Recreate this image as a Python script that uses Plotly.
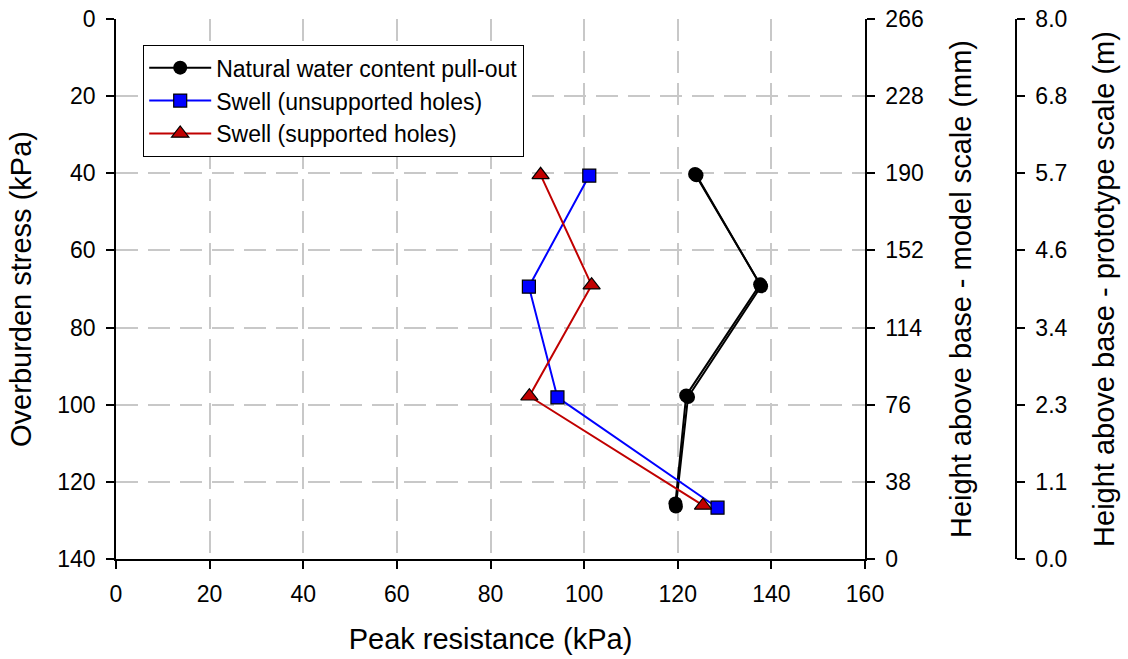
import plotly.graph_objects as go

# Data
natural_x_a = [123.7, 137.6, 121.8, 119.5]
natural_y_a = [40.2, 68.8, 97.6, 125.6]
natural_x_b = [124.0, 137.8, 122.2, 119.6]
natural_y_b = [40.5, 69.3, 98.0, 126.4]

unsup_x = [101.1, 88.2, 94.3, 128.5]
unsup_y = [40.6, 69.4, 98.1, 126.7]

sup_x = [90.7, 101.6, 88.3, 125.4]
sup_y = [40.4, 69.0, 97.8, 126.1]

model_ticks = [0, 38, 76, 114, 152, 190, 228, 266]
proto_tickvals = [0, 8/7, 16/7, 24/7, 32/7, 40/7, 48/7, 8]
proto_ticktext = ["0.0", "1.1", "2.3", "3.4", "4.6", "5.7", "6.8", "8.0"]

FONT = "Liberation Sans, Arial, sans-serif"

fig = go.Figure()
fig.add_trace(go.Scatter(x=natural_x_a, y=natural_y_a, mode="lines+markers",
                         name="Natural water content pull-out",
                         line=dict(color="black", width=2),
                         marker=dict(symbol="circle", size=14, color="black")))
fig.add_trace(go.Scatter(x=natural_x_b, y=natural_y_b, mode="lines+markers",
                         name="Natural water content pull-out (repeat)", showlegend=False,
                         line=dict(color="black", width=2),
                         marker=dict(symbol="circle", size=14, color="black")))
fig.add_trace(go.Scatter(x=unsup_x, y=unsup_y, mode="lines+markers",
                         name="Swell (unsupported holes)",
                         line=dict(color="#0000ff", width=2),
                         marker=dict(symbol="square", size=13, color="#0000ff",
                                     line=dict(color="black", width=1.2))))
fig.add_trace(go.Scatter(x=sup_x, y=sup_y, mode="lines+markers",
                         name="Swell (supported holes)",
                         line=dict(color="#c00000", width=2),
                         marker=dict(symbol="triangle-up", size=15, color="#c00000",
                                     line=dict(color="black", width=1.2))))
# invisible traces to activate right axes
fig.add_trace(go.Scatter(x=[None], y=[None], yaxis="y2", showlegend=False, hoverinfo="skip"))
fig.add_trace(go.Scatter(x=[None], y=[None], yaxis="y3", showlegend=False, hoverinfo="skip"))

L, R = 116, 10
W = 1128 - L - R
x_end = (865 - L) / W
y3_pos = (1016 - L) / W

grid = dict(showgrid=True, gridcolor="#c8c8c8", griddash="22px,10px", gridwidth=1.5)
axline = dict(showline=True, linecolor="black", linewidth=1.5,
              ticks="outside", ticklen=8, tickcolor="black", tickwidth=1.5,
              zeroline=False, automargin=False, tickfont=dict(size=23))

fig.update_layout(
    width=1128, height=659,
    margin=dict(l=L, r=R, t=19, b=100, autoexpand=False),
    paper_bgcolor="white", plot_bgcolor="white",
    font=dict(family=FONT, size=23, color="black"),
    showlegend=True,
    legend=dict(x=(143 - L) / W, y=1 - (45 - 19) / 540, xanchor="left", yanchor="top",
                bordercolor="black", borderwidth=1.2, bgcolor="white",
                font=dict(size=23), itemwidth=62, tracegroupgap=0),
    xaxis=dict(domain=[0, x_end], range=[0, 160], dtick=20, tick0=0,
               ticklabelstandoff=6,
               title=dict(text="Peak resistance (kPa)", font=dict(size=29), standoff=22),
               **axline, **grid),
    yaxis=dict(range=[140, 0], dtick=20, tick0=0, ticklabelstandoff=6,
               title=dict(text="Overburden stress (kPa)", font=dict(size=29), standoff=17),
               **axline, **grid),
    yaxis2=dict(overlaying="y", side="right", anchor="x", range=[0, 266],
                tickvals=model_ticks, showgrid=False, ticklabelstandoff=6,
                title=dict(text="Height above base - model scale (mm)", font=dict(size=29), standoff=28),
                **axline),
    yaxis3=dict(overlaying="y", side="right", anchor="free", position=y3_pos,
                range=[0, 8], tickvals=proto_tickvals, ticktext=proto_ticktext,
                showgrid=False, ticklabelstandoff=6,
                title=dict(text="Height above base - prototype scale (m)", font=dict(size=29), standoff=26),
                **axline),
)

fig.write_html("out.html")
